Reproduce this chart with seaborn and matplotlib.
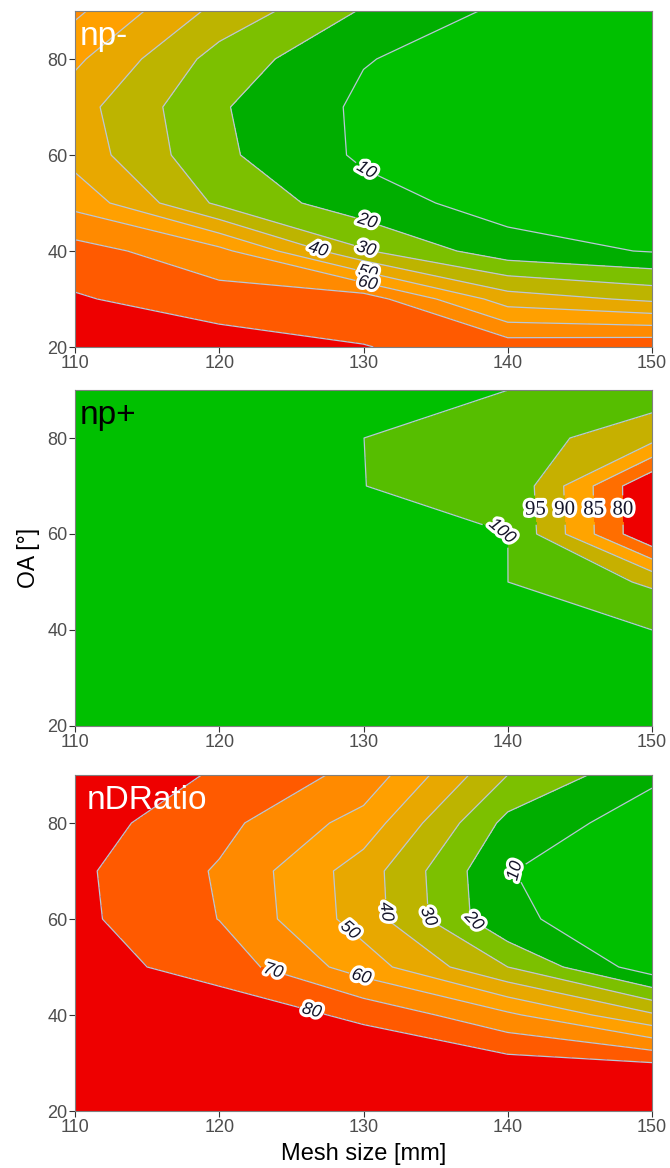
import numpy as np
import matplotlib
matplotlib.use("Agg")
import matplotlib.pyplot as plt
import matplotlib.patheffects as pe
import seaborn as sns

# ---- data (grid) ----
mesh_size = [110, 120, 130, 140, 150]          # x, mm
oa = [20, 30, 40, 50, 60, 70, 80, 90]          # y, degrees

# rows follow oa (20 -> 90), columns follow mesh_size (110 -> 150)
np_minus = [
    [90.0, 85.0, 80.3, 76.0, 78.0],
    [81.0, 74.5, 75.3, 45.0, 38.0],
    [74.0, 63.0, 31.0, 14.0, 9.4],
    [57.0, 28.0, 14.0, 6.0, 5.0],
    [46.0, 22.0, 8.4, 3.0, 3.0],
    [44.0, 21.0, 8.2, 3.0, 2.0],
    [52.0, 26.0, 10.5, 5.0, 3.0],
    [62.0, 37.0, 19.1, 7.7, 4.0],
]
np_plus = [
    [100, 100, 100, 100, 100],
    [100, 100, 100, 100, 100],
    [100, 100, 100, 100, 100],
    [100, 100, 100, 100, 94.2],
    [100, 100, 100, 100, 75.0],
    [100, 100, 100, 99.5, 75.0],
    [100, 100, 100, 97.5, 91.7],
    [100, 100, 100, 100, 98.0],
]
nd_ratio = [
    [98.0, 96.0, 94.0, 92.0, 90.0],
    [95.0, 92.0, 88.0, 84.0, 80.3],
    [90.0, 86.0, 78.0, 62.0, 41.5],
    [84.0, 76.0, 55.0, 30.0, 4.0],
    [82.4, 69.8, 45.5, 11.1, 6.3],
    [82.0, 69.0, 45.0, 10.2, 6.2],
    [84.5, 73.0, 56.0, 17.0, 4.7],
    [90.0, 78.6, 67.0, 30.0, 12.0],
]

levels_minus = [10, 20, 30, 40, 50, 60, 70, 80]
levels_plus = [80, 85, 90, 95, 100]
levels_ratio = [10, 20, 30, 40, 50, 60, 70, 80]

x_ticks = [110, 120, 130, 140, 150]
y_ticks = [20, 40, 60, 80]

# colours low -> high
pal_9 = ["#00C000", "#00AE00", "#7CC000", "#BDB400", "#E8A800",
         "#FFA000", "#FF8A00", "#FF5A00", "#EE0000"]
pal_6 = ["#EE0000", "#FF6E00", "#FFA400", "#C6B000", "#56BE00", "#00C000"]
line_col = "#B8C8D6"

sns.set_theme(style="white")
plt.rcParams["font.family"] = ["Liberation Sans", "DejaVu Sans"]

fig = plt.figure(figsize=(6.7, 11.68), dpi=100)
W, H = 670.0, 1168.0
left, right = 75 / W, 652 / W
panels = [(11, 347), (390, 726), (775, 1111)]
axes = [fig.add_axes([left, 1 - b / H, right - left, (b - t) / H]) for t, b in panels]

X, Y = np.meshgrid(mesh_size, oa)
halo = [pe.withStroke(linewidth=4.5, foreground="white")]


def style_axis(ax):
    ax.set_xlim(110, 150)
    ax.set_ylim(20, 90)
    ax.set_xticks(x_ticks)
    ax.set_yticks(y_ticks)
    ax.tick_params(axis="both", which="both", length=4, width=0.8,
                   color="#333333", labelcolor="#4D4D4D", labelsize=13,
                   direction="out", bottom=True, left=True, pad=1.5)
    for s in ax.spines.values():
        s.set_color("#7F7F7F")
        s.set_linewidth(0.8)


def draw(ax, z, levels, bounds, colours, label_levels, fmt, manual, size=12.5, italic=True):
    Z = np.array(z, dtype=float)
    ax.contourf(X, Y, Z, levels=bounds, colors=colours)
    cs = ax.contour(X, Y, Z, levels=levels, colors=line_col, linewidths=0.9)
    texts = ax.clabel(cs, label_levels, inline=True, inline_spacing=3,
                      fmt=fmt, fontsize=size, manual=manual, colors="#15152A")
    for t in texts:
        t.set_path_effects(halo)
        if italic:
            t.set_fontstyle("italic")
    style_axis(ax)
    return texts


def panel_title(ax, s, colour, xpos=0.008):
    ax.text(xpos, 0.898, s, transform=ax.transAxes, ha="left", va="baseline",
            fontsize=24, color=colour)


# panel 1: np-
ax = axes[0]
draw(ax, np_minus, levels_minus, [0] + levels_minus + [101], pal_9,
     [10, 20, 30, 40, 50, 60], "%d",
     [(130.3, 57.5), (130.3, 46.5), (130.3, 41.5), (126.8, 39.8), (130.3, 35.6), (130.3, 33.4)])
panel_title(ax, "np-", "white")

# panel 2: np+
ax = axes[1]
lv = [80, 85, 90, 95, 99.99]
texts = draw(ax, np_plus, lv, [0] + lv + [101], pal_6,
             lv, {80: "80", 85: "85", 90: "90", 95: "95", 99.99: "100"},
             [(139.6, 60.5), (142.1, 65), (144.1, 65), (146.2, 65), (148.3, 65)],
             size=15, italic=False)
for t in texts:
    if t.get_text() != "100":
        t.set_rotation(0)
        t.set_family("Liberation Serif")
    else:
        t.set_fontsize(12.5)
        t.set_fontstyle("italic")
panel_title(ax, "np+", "black")
ax.set_ylabel("OA [°]", fontsize=16.5, color="black", labelpad=5)

# panel 3: nDRatio
ax = axes[2]
draw(ax, nd_ratio, levels_ratio, [0] + levels_ratio + [101], pal_9,
     levels_ratio, "%d",
     [(139.9, 70.5), (137.8, 60.3), (134.4, 60.5), (131.5, 61.5),
      (129.3, 58.5), (130.0, 49.5), (123.8, 49.8), (126.3, 39.7)])
panel_title(ax, "nDRatio", "white", xpos=0.02)
ax.set_xlabel("Mesh size [mm]", fontsize=17, color="black", labelpad=5)

fig.savefig("out.png", dpi=100)
